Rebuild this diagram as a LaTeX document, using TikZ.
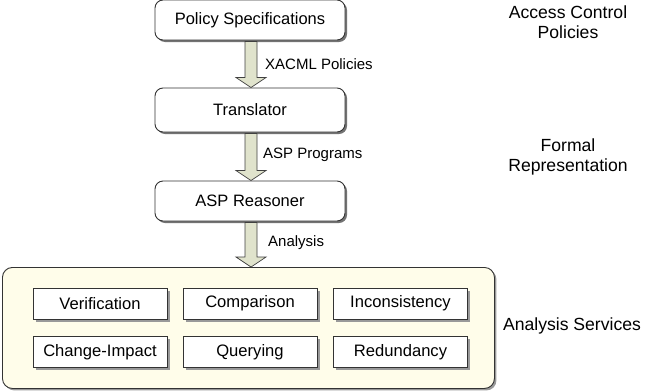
\documentclass[tikz,border=0pt]{standalone}
\usepackage{fontspec}
\setmainfont{Liberation Sans}
\usetikzlibrary{shadows,calc}
\definecolor{arrowfill}{RGB}{224,227,204}
\definecolor{panelfill}{RGB}{255,253,234}
\tikzset{
  mainbox/.style={draw=black!80, line width=0.9pt, fill=white, rounded corners=8pt,
    minimum width=190pt, minimum height=40pt, inner sep=0pt,
    drop shadow={shadow xshift=2pt, shadow yshift=-2pt, fill=black!55, opacity=1},
    font=\fontsize{16.5}{18}\selectfont},
  svcbox/.style={draw=black!80, line width=0.8pt, fill=white,
    minimum width=134pt, minimum height=31pt, inner sep=0pt,
    drop shadow={shadow xshift=2.5pt, shadow yshift=-2.5pt, fill=black!40, opacity=1},
    font=\fontsize{16.6}{18}\selectfont},
  panel/.style={draw=black!80, line width=0.9pt, fill=panelfill, rounded corners=10pt,
    drop shadow={shadow xshift=2pt, shadow yshift=-2pt, fill=black!40, opacity=1}},
  fatarrow/.style={draw=black!75, line width=0.7pt, fill=arrowfill},
  lbl/.style={font=\fontsize{15}{17}\selectfont, anchor=west, inner sep=0pt},
  side/.style={font=\fontsize{17.6}{20}\selectfont, align=center, inner sep=0pt}
}
\begin{document}
\begin{tikzpicture}[x=1pt,y=-1pt]
\useasboundingbox (0,0) rectangle (652,391);
% panel
\node[panel, minimum width=492pt, minimum height=121pt, anchor=north west, inner sep=0pt] (panel) at (2,267) {};
% main boxes
\node[mainbox] (spec) at (250,20) {Policy Specifications};
\node[mainbox, minimum height=44pt] (trans) at (250,110) {Translator};
\node[mainbox] (asp) at (250,201) {ASP Reasoner};
% service boxes
\node[svcbox] (ver) at (100,303.5) {Verification};
\node[svcbox] (cmp) at (250,303.5) {Comparison};
\node[svcbox] (inc) at (400.5,303.5) {Inconsistency};
\node[svcbox] (chg) at (100,352) {Change-Impact};
\node[svcbox] (qry) at (250,352) {Querying};
\node[svcbox] (red) at (400.5,352) {Redundancy};
% fat arrows
\foreach \a/\b in {spec/trans, trans/asp, asp/panel}{
  \draw[fatarrow] let \p1=($(\a.south)+(1pt,-1pt)$), \p2=(\b.north -| \a.south) in
    (\x1-6pt,\y1) -- (\x1+6pt,\y1) -- (\x1+6pt,\y2+10pt) -- (\x1+15pt,\y2+10pt)
    -- (\x1,\y2) -- (\x1-15pt,\y2+10pt) -- (\x1-6pt,\y2+10pt) -- cycle;
}
% arrow labels
\node[lbl] (l1) at (265,64) {XACML Policies};
\node[lbl] (l2) at (263,155) {ASP Programs};
\node[lbl] (l3) at (268,243) {Analysis};
% side labels
\node[side] (s1) at (568,22) {Access Control\\Policies};
\node[side] (s2) at (568,157) {Formal\\Representation};
\node[side] (s3) at (572,326) {Analysis Services};
\end{tikzpicture}
\end{document}
